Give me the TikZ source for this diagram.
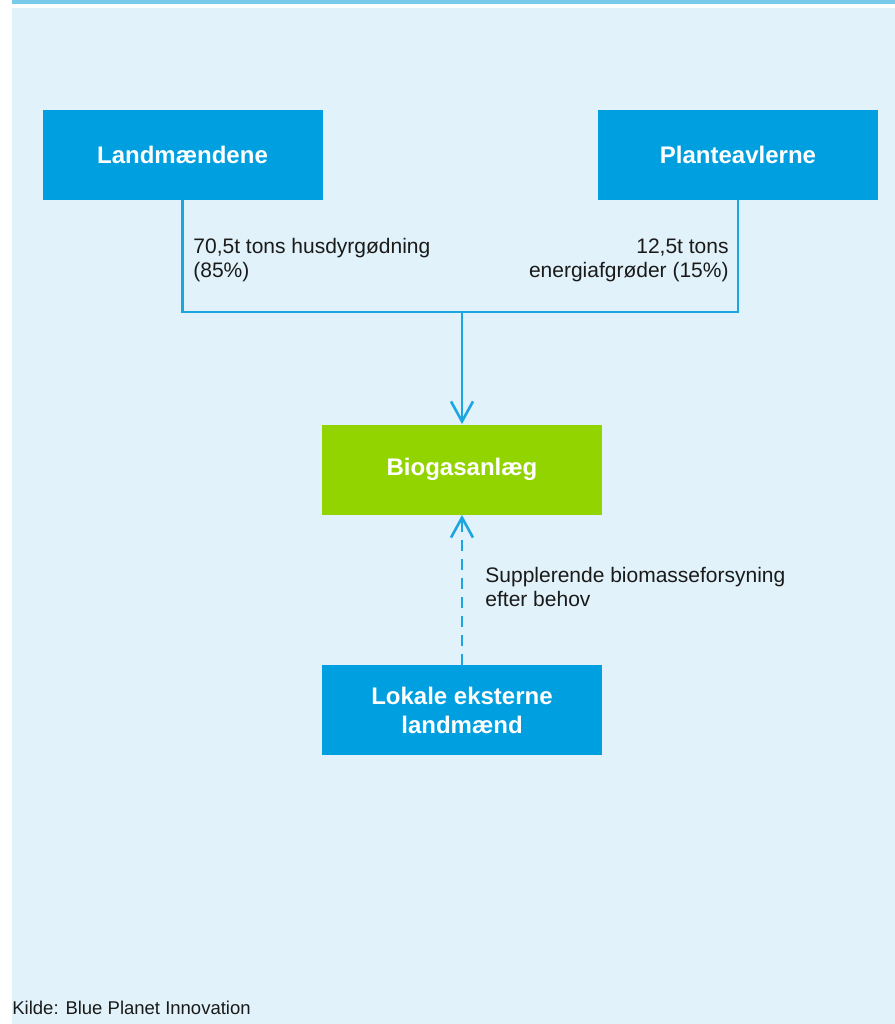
\documentclass[tikz,border=0pt]{standalone}
\usepackage{fontspec}
\setmainfont{Liberation Sans}
\usetikzlibrary{arrows.meta,positioning,calc}
\definecolor{kblue}{HTML}{009FE0}
\definecolor{kline}{HTML}{1BA6E1}
\definecolor{kgreen}{HTML}{92D400}
\definecolor{kpanel}{HTML}{E1F2FA}
\definecolor{kband}{HTML}{7ACBEA}
\definecolor{ktext}{HTML}{1A1A1A}

\begin{document}
\begin{tikzpicture}[
    x=0.5pt, y=-0.5pt,
    actor/.style={
        rectangle,
        fill=kblue,
        text=white,
        minimum width=140pt,
        minimum height=45pt,
        inner sep=0pt,
        align=center,
        font=\fontsize{12}{14.5}\selectfont\bfseries
    },
    plant/.style={
        actor,
        fill=kgreen
    },
    flow/.style={
        -{Straight Barb[length=10pt,width=11pt]},
        line width=1.3pt,
        draw=kline
    },
    feed/.style={
        line width=1.3pt,
        draw=kline
    },
    flowtext/.style={
        font=\fontsize{10.5}{12}\selectfont,
        text=ktext,
        inner sep=0pt
    }
]

% Baggrund
\useasboundingbox (0,0) rectangle (895,1024);
\fill[white] (0,0) rectangle (895,1024);
\fill[kpanel] (12,8) rectangle (895,1024);
\fill[kband] (12,0) rectangle (895,3.5);

% Aktoerer
\node[actor] (landmaend) at (182.5,155) {Landmændene};
\node[actor] (planteavl) at (738,155) {Planteavlerne};
\node[plant] (biogas) at (462,469.5) {Biogasanlæg};
\node[actor] (lokale) at (462,710) {Lokale eksterne\\landmænd};

% Forsyning til anlaegget
\coordinate (samling) at (462,312);
\draw[feed] (landmaend.south) |- (samling) -| (planteavl.south);
\draw[flow] (samling) -- (biogas.north);
\draw[flow,dash pattern=on 5.5pt off 4pt] (lokale.north) -- (biogas.south);

% Maengder
\node[flowtext,anchor=west,align=left] (gylle) at (193,260) {70,5t tons husdyrgødning\\(85\%)};
\node[flowtext,anchor=east,align=right] (afgroeder) at (729,260) {12,5t tons\\energiafgrøder (15\%)};
\node[flowtext,anchor=west,align=left] (suppl) at (485,587) {Supplerende biomasseforsyning\\efter behov};

% Kilde
\node[font=\fontsize{9.25}{11}\selectfont,text=ktext,inner sep=0pt,anchor=west] (kilde) at (12,1008) {Kilde: Blue Planet Innovation};

\end{tikzpicture}
\end{document}
